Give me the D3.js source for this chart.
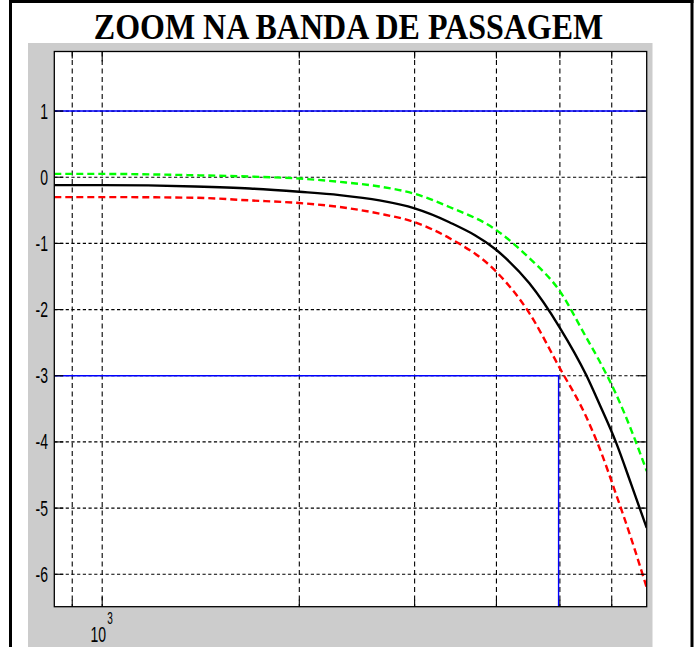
<!DOCTYPE html>
<html>
<head>
<meta charset="utf-8">
<script src="https://cdn.jsdelivr.net/npm/d3@7"></script>
<style>
  html, body { margin: 0; padding: 0; background: #ffffff; }
  svg { display: block; }
</style>
</head>
<body>
<script>
// ---- data ----
const titleText = "ZOOM NA BANDA DE PASSAGEM";
const freqs   = [845, 1000, 1385, 1680, 2000, 2304, 2651, 3000, 3390, 4000, 4488, 4989, 5485, 5741, 6087, 6420, 6785];
const nominal = [-0.12, -0.12, -0.14, -0.17, -0.22, -0.27, -0.35, -0.47, -0.68, -1.10, -1.60, -2.26, -2.99, -3.42, -4.00, -4.63, -5.30];
const upper   = [0.05, 0.05, 0.03, 0.01, -0.02, -0.07, -0.14, -0.25, -0.45, -0.80, -1.22, -1.71, -2.42, -2.77, -3.27, -3.81, -4.44];
const lower   = [-0.30, -0.30, -0.31, -0.35, -0.39, -0.45, -0.55, -0.68, -0.92, -1.43, -2.05, -2.87, -3.62, -4.08, -4.78, -5.45, -6.20];
const yTicks  = [1, 0, -1, -2, -3, -4, -5, -6];
const xGrid   = [900, 1000, 2000, 3000, 4000, 5000, 6000];
const xMajor  = [1000];
const xDomain = [845, 6785];
const yDomain = [-6.49, 1.9];
const refLevel = 1;
const cutLevel = -3;
const cutFreq  = 4977;

// ---- layout ----
const W = 696, H = 647;
const box = { l: 54.3, r: 646.7, t: 51.5, b: 606.7 };

const svg = d3.select("body").append("svg").attr("width", W).attr("height", H);

// gray figure panel
svg.append("rect").attr("x", 28).attr("y", 43).attr("width", 624.5).attr("height", H - 43).attr("fill", "#cccccc");

// outer table-cell frame
svg.append("line").attr("x1", 10.5).attr("x2", 10.5).attr("y1", 0).attr("y2", H).attr("stroke", "#000").attr("stroke-width", 3);
svg.append("line").attr("x1", 692).attr("x2", 692).attr("y1", 0).attr("y2", H).attr("stroke", "#000").attr("stroke-width", 3);
svg.append("line").attr("x1", 9).attr("x2", 693.5).attr("y1", 1.5).attr("y2", 1.5).attr("stroke", "#000").attr("stroke-width", 3);

// title
svg.append("g").attr("transform", "translate(348.5,38.5) scale(1,1.13)")
  .append("text")
  .attr("text-anchor", "middle")
  .attr("font-family", "'Liberation Serif', 'Times New Roman', serif")
  .attr("font-weight", "bold")
  .attr("font-size", 32)
  .attr("fill", "#000")
  .text(titleText);

// scales
const x = d3.scaleLog().domain(xDomain).range([box.l, box.r]);
const y = d3.scaleLinear().domain(yDomain).range([box.b, box.t]);

// plot background
svg.append("rect").attr("x", box.l).attr("y", box.t).attr("width", box.r - box.l).attr("height", box.b - box.t).attr("fill", "#ffffff");

// clip
svg.append("clipPath").attr("id", "clip").append("rect")
  .attr("x", box.l).attr("y", box.t).attr("width", box.r - box.l).attr("height", box.b - box.t);

const plot = svg.append("g").attr("clip-path", "url(#clip)");

// grid
plot.selectAll(".gx").data(xGrid).enter().append("line")
  .attr("x1", d => x(d)).attr("x2", d => x(d))
  .attr("y1", box.t).attr("y2", box.b)
  .attr("stroke", "#000").attr("stroke-width", 1.1).attr("stroke-dasharray", "5,3.5");
plot.selectAll(".gy").data(yTicks).enter().append("line")
  .attr("x1", box.l).attr("x2", box.r)
  .attr("y1", d => y(d)).attr("y2", d => y(d))
  .attr("stroke", "#000").attr("stroke-width", 1.2).attr("stroke-dasharray", "3.2,2.5");

// blue reference lines
plot.append("line").attr("x1", box.l).attr("x2", box.r).attr("y1", y(refLevel)).attr("y2", y(refLevel))
  .attr("stroke", "#0000ff").attr("stroke-width", 1.4);
plot.append("path")
  .attr("d", d3.line()([[x(xDomain[0]), y(cutLevel)], [x(cutFreq), y(cutLevel)], [x(cutFreq), y(yDomain[0])]]))
  .attr("fill", "none").attr("stroke", "#0000ff").attr("stroke-width", 1.4);

// curves
const line = d3.line().x(d => x(d[0])).y(d => y(d[1])).curve(d3.curveMonotoneX);
const mk = vals => freqs.map((f, i) => [f, vals[i]]);

plot.append("path").attr("d", line(mk(upper)))
  .attr("fill", "none").attr("stroke", "#00ff00").attr("stroke-width", 2.4).attr("stroke-dasharray", "7,4");
plot.append("path").attr("d", line(mk(lower)))
  .attr("fill", "none").attr("stroke", "#ff0000").attr("stroke-width", 2.4).attr("stroke-dasharray", "7,4");
plot.append("path").attr("d", line(mk(nominal)))
  .attr("fill", "none").attr("stroke", "#000000").attr("stroke-width", 2.4);

// ticks (inside, all four sides)
const tk = svg.append("g").attr("stroke", "#000").attr("stroke-width", 1.1);
yTicks.forEach(v => {
  tk.append("line").attr("x1", box.l).attr("x2", box.l + 9).attr("y1", y(v)).attr("y2", y(v));
  tk.append("line").attr("x1", box.r).attr("x2", box.r - 9).attr("y1", y(v)).attr("y2", y(v));
});
xGrid.forEach(v => {
  const len = xMajor.includes(v) ? 10 : 7;
  tk.append("line").attr("x1", x(v)).attr("x2", x(v)).attr("y1", box.b).attr("y2", box.b - len);
  tk.append("line").attr("x1", x(v)).attr("x2", x(v)).attr("y1", box.t).attr("y2", box.t + len);
});

// box
svg.append("rect").attr("x", box.l).attr("y", box.t).attr("width", box.r - box.l).attr("height", box.b - box.t)
  .attr("fill", "none").attr("stroke", "#000").attr("stroke-width", 1.3);

// y tick labels
const labFont = "'Liberation Sans', Arial, Helvetica, sans-serif";
yTicks.forEach(v => {
  svg.append("g").attr("transform", `translate(48,${y(v) + 7.5}) scale(1,1.6)`)
    .append("text").attr("text-anchor", "end")
    .attr("font-family", labFont).attr("font-size", 14).attr("fill", "#000")
    .text(v < 0 ? "-" + Math.abs(v) : String(v));
});

// x tick label 10^3
xMajor.forEach(v => {
  const e = Math.round(Math.log10(v));
  const g = svg.append("g").attr("transform", `translate(${x(v) - 4},641.5) scale(1,1.6)`);
  g.append("text").attr("text-anchor", "middle")
    .attr("font-family", labFont).attr("font-size", 14).attr("fill", "#000").text("10");
  g.append("text").attr("x", 9).attr("y", -11).attr("text-anchor", "start")
    .attr("font-family", labFont).attr("font-size", 10).attr("fill", "#000").text(String(e));
});
</script>
</body>
</html>
